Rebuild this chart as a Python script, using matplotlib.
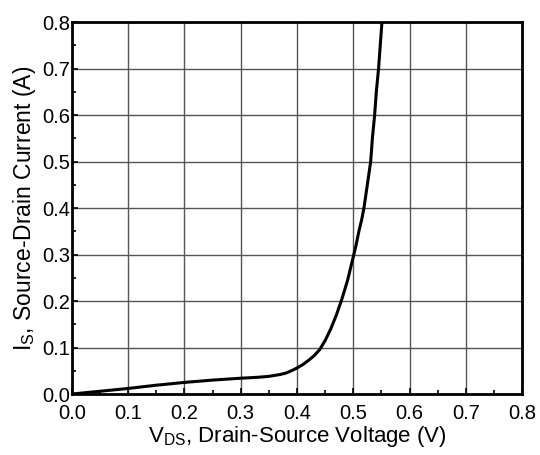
import matplotlib
matplotlib.use("Agg")
from matplotlib import pyplot as plt
from matplotlib.ticker import MultipleLocator

# Curve (V, A)
vds = [0.0, 0.05, 0.1, 0.15, 0.2, 0.25, 0.3, 0.33, 0.35, 0.37, 0.38, 0.39, 0.4, 0.41,
       0.42, 0.43, 0.44, 0.45, 0.46, 0.47, 0.48, 0.49, 0.50, 0.505, 0.51, 0.515, 0.519,
       0.525, 0.531, 0.534, 0.538, 0.541, 0.545, 0.548, 0.551]
i_s = [0.0, 0.006, 0.012, 0.019, 0.025, 0.030, 0.034, 0.036, 0.038, 0.042, 0.045, 0.050,
       0.056, 0.063, 0.072, 0.082, 0.095, 0.115, 0.14, 0.17, 0.205, 0.245, 0.295, 0.32,
       0.35, 0.375, 0.4, 0.45, 0.5, 0.55, 0.6, 0.65, 0.7, 0.75, 0.8]

plt.rcParams['font.family'] = ['Liberation Sans', 'DejaVu Sans']
plt.rcParams['mathtext.fontset'] = 'custom'
plt.rcParams['mathtext.rm'] = 'Liberation Sans'
plt.rcParams['mathtext.it'] = 'Liberation Sans'

fig = plt.figure(figsize=(5.4, 4.55), dpi=100)
ax = fig.add_axes([0.1333, 0.134, 0.8334, 0.8176])

ax.plot(vds, i_s, color='black', lw=2.2, zorder=3, solid_joinstyle='round')

ax.set_xlim(0, 0.8)
ax.set_ylim(0, 0.8)
ax.xaxis.set_major_locator(MultipleLocator(0.1))
ax.yaxis.set_major_locator(MultipleLocator(0.1))
ax.xaxis.set_minor_locator(MultipleLocator(0.05))
ax.yaxis.set_minor_locator(MultipleLocator(0.05))
ax.xaxis.set_major_formatter(plt.FormatStrFormatter('%.1f'))
ax.yaxis.set_major_formatter(plt.FormatStrFormatter('%.1f'))
ax.grid(True, which='major', color='#555555', lw=1.0)
ax.tick_params(which='both', direction='in', top=False, right=False, labelsize=14.5)
ax.tick_params(which='major', length=4, width=1.2)
ax.tick_params(which='minor', length=3, width=1.2)
ax.tick_params(axis='x', which='major', pad=7)
ax.tick_params(axis='y', which='major', pad=1.5)
for s in ax.spines.values():
    s.set_linewidth(2)
    s.set_zorder(4)

ax.set_xlabel(r'V$_{\rm DS}$, Drain-Source Voltage (V)', fontsize=16, labelpad=1)
ax.set_ylabel(r'I$_{\rm S}$, Source-Drain Current (A)', fontsize=16.5, labelpad=3)

fig.savefig('out.png', dpi=100)
